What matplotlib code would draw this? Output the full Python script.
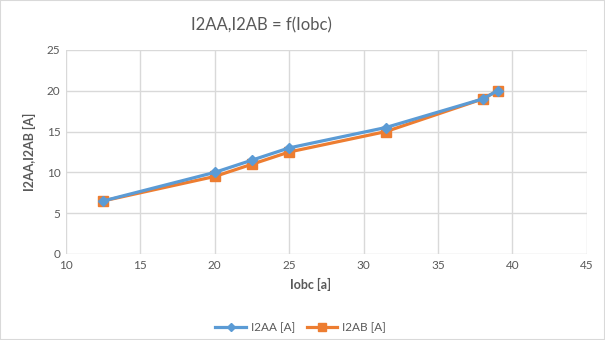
import matplotlib
matplotlib.use("Agg")
import matplotlib.pyplot as plt
from matplotlib.patches import Rectangle

# Data
iobc = [12.5, 20, 22.5, 25, 31.5, 38, 39]
i2aa = [6.5, 10, 11.5, 13, 15.5, 19, 20]
i2ab = [6.5, 9.5, 11, 12.5, 15, 19, 20]

xticks = [10, 15, 20, 25, 30, 35, 40, 45]
yticks = [0, 5, 10, 15, 20, 25]

plt.rcParams['font.family'] = ['Lato', 'DejaVu Sans']
text_col = '#595959'

fig = plt.figure(figsize=(6.05, 3.4), dpi=100)
fig.patches.append(Rectangle((0, 0), 1, 1, transform=fig.transFigure,
                             fill=False, edgecolor='#D9D9D9', lw=1.5))
ax = fig.add_axes([0.109, 0.253, 0.861, 0.60])

ax.plot(iobc, i2ab, color='#ED7D31', lw=2.3, marker='s', ms=6.5,
        label='I2AB [A]', zorder=3)
ax.plot(iobc, i2aa, color='#5B9BD5', lw=2.3, marker='D', ms=5,
        label='I2AA [A]', zorder=4)

ax.set_xlim(10, 45)
ax.set_ylim(0, 25)
ax.set_xticks(xticks)
ax.set_yticks(yticks)
ax.grid(True, color='#D9D9D9', lw=1)
ax.set_axisbelow(True)
for s in ax.spines.values():
    s.set_visible(False)
ax.tick_params(length=0, colors=text_col, labelsize=8.5, pad=4)

ax.set_xlabel('Iobc [a]', color=text_col, fontsize=9, fontweight='bold')
ax.xaxis.set_label_coords(0.47, -0.12)
ax.set_ylabel('I2AA,I2AB [A]', color=text_col, fontsize=9, fontweight='bold', labelpad=8)
fig.text(0.432, 0.925, 'I2AA,I2AB = f(Iobc)', color=text_col,
         fontsize=12, ha='center', va='center')

h, l = ax.get_legend_handles_labels()
fig.legend(h[::-1], l[::-1], loc='center', bbox_to_anchor=(0.497, 0.037), ncol=2,
           frameon=False, fontsize=8.5, labelcolor=text_col, handlelength=2.6,
           handletextpad=0.4, columnspacing=1.0, markerscale=0.8)

fig.savefig('out.png', dpi=100)
